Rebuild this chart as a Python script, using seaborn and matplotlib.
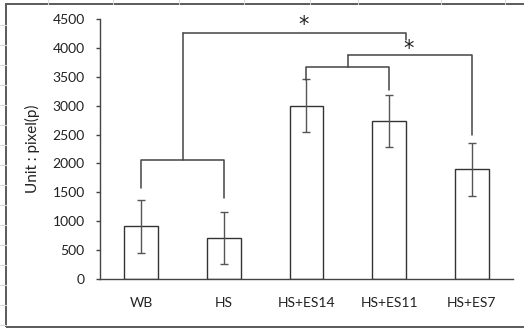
import seaborn as sns
import matplotlib.pyplot as plt
from matplotlib.lines import Line2D
from matplotlib.patches import Rectangle

sns.set_theme(style="white")
plt.rcParams['font.family'] = ['Lato', 'DejaVu Sans']

groups = ["WB", "HS", "HS+ES14", "HS+ES11", "HS+ES7"]
means = [910, 710, 3000, 2730, 1900]
errors = [460, 455, 460, 450, 460]

# significance brackets: (left, right, bar height, left leg end, right leg end)
pair_brackets = [(0, 1, 2060, 1570, 1400), (2, 3, 3670, 3450, 3270)]
# links from bracket centre to the other group: (x start, x end, height, leg end)
links = [(0.5, 3.2, 4260, 4135), (2.5, 4, 3875, 2490)]
stars = [(1.96, 4400), (3.24, 3980)]

fig = plt.figure(figsize=(5.24, 3.29), dpi=100)
ax = fig.add_axes([0.1908, 0.152, 0.7882, 0.7902])

sns.barplot(x=groups, y=means, ax=ax, width=0.41, color="white",
            edgecolor="#333333", linewidth=1.0)
ax.errorbar(range(len(groups)), means, yerr=errors, fmt="none",
            ecolor="#555555", elinewidth=1.0, capsize=3, capthick=1.0)

lc = "#444444"
for l, r, h, ll, rl in pair_brackets:
    ax.plot([l, l, r, r], [ll, h, h, rl], color=lc, lw=1.1)
for (x0, x1, h, leg), base in zip(links, pair_brackets):
    ax.plot([x0, x0], [base[2], h], color=lc, lw=1.1)
    ax.plot([x0, x1, x1], [h, h, leg], color=lc, lw=1.1)
for sx, sy in stars:
    ax.text(sx, sy, "*", ha="center", va="center", fontsize=15, color="#222222",
            family="DejaVu Sans")

ax.set_ylim(0, 4500)
ax.set_xlim(-0.5, 4.5)
ax.set_yticks(range(0, 4501, 500))
ax.set_ylabel("Unit : pixel(p)", fontsize=11, labelpad=9, color="#222222")
ax.set_xlabel("")

ax.set_xticks([i - 0.5 for i in range(6)], minor=True)
ax.tick_params(axis="x", which="major", length=0, pad=13, labelsize=10, colors="#222222")
ax.tick_params(axis="x", which="minor", length=4, width=1, color="#444444", direction="out")
ax.tick_params(axis="y", length=3, width=1, color="#444444", direction="out", pad=8,
               labelsize=10, labelcolor="#222222", left=True)

for s in ["top", "right"]:
    ax.spines[s].set_visible(False)
for s in ["left", "bottom"]:
    ax.spines[s].set_color("#444444")
    ax.spines[s].set_linewidth(1.0)

# spreadsheet backdrop
W, H = 524, 329
for y in range(25, 329, 20):
    fig.add_artist(Line2D([0, 6 / W], [1 - y / H, 1 - y / H], color="#d9d9d9", lw=0.8))
for x in [48, 113, 179, 244, 310, 358, 441, 505]:
    fig.add_artist(Line2D([x / W, x / W], [1 - 4 / H, 1], color="#d9d9d9", lw=0.8))
fig.add_artist(Rectangle((6 / W, 2 / H), 1.05, 1 - 6 / H, transform=fig.transFigure,
                         fill=False, edgecolor="#5a5a5a", lw=1.4))

fig.savefig("out.png", dpi=100)
